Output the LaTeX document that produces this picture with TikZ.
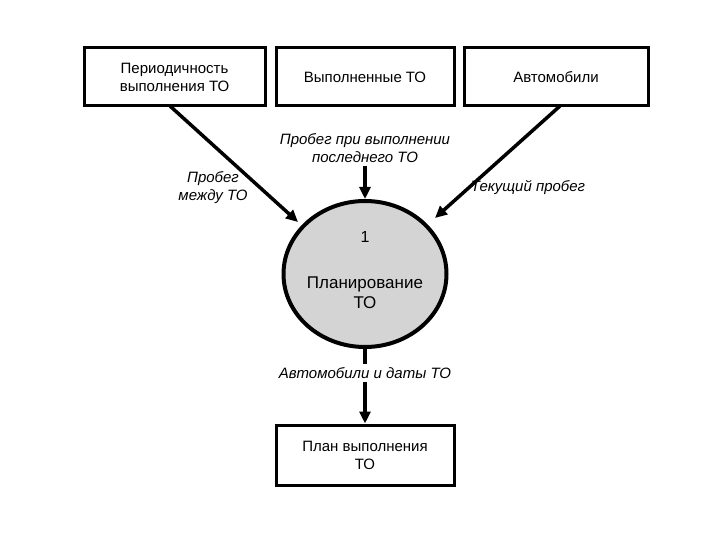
\documentclass[tikz,border=0pt]{standalone}
\usepackage{fontspec}
\setmainfont{Liberation Sans}
\usetikzlibrary{arrows.meta,shapes.geometric}
\begin{document}
\begin{tikzpicture}[x=1pt,y=-1pt,
 box/.style={draw,line width=3pt,minimum width=#1,minimum height=58pt,align=center,inner sep=0pt,font=\fontsize{15}{18}\selectfont},
 lab/.style={align=center,font=\fontsize{15}{18}\selectfont\itshape},
 ln/.style={line width=3.5pt},
 arr/.style={line width=3.5pt,-{Triangle[length=12pt,width=11pt]}}]
\useasboundingbox (0,0) rectangle (720,540);
\node[box=181pt] (b1) at (174.5,77) {Периодичность\\выполнения ТО};
\node[box=178pt] (b2) at (365,77) {Выполненные ТО};
\node[box=184pt] (b3) at (556,77) {Автомобили};
\node[draw,line width=4pt,fill=black!17,ellipse,minimum width=163pt,minimum height=146pt,inner sep=0pt] (c) at (365,274) {};
\node[font=\fontsize{16}{19}\selectfont] (n1) at (365,237) {1};
\node[align=center,font=\fontsize{17}{20}\selectfont] (t) at (365,293) {Планирование\\ТО};
\node[box=178pt,minimum height=60pt] (b4) at (365,455) {План выполнения\\ТО};
\node[lab] (l1) at (365,148) {Пробег при выполнении\\последнего ТО};
\node[lab] (l2) at (213,188) {Пробег\\между ТО};
\node[lab] (l3) at (528,188) {Текущий пробег};
\node[lab] (l4) at (365,373) {Автомобили и даты ТО};
\coordinate (s1) at (170,106); \coordinate (e1) at (298,222);
\coordinate (s3) at (560,106); \coordinate (e3) at (435,218);
\draw[arr] (s1) -- (e1);
\draw[arr] (s3) -- (e3);
\draw[arr] (l1.south) -- (c.north);
\draw[ln] (c.south) -- (l4.north);
\draw[arr] (l4.south) -- (b4.north);
\end{tikzpicture}
\end{document}
